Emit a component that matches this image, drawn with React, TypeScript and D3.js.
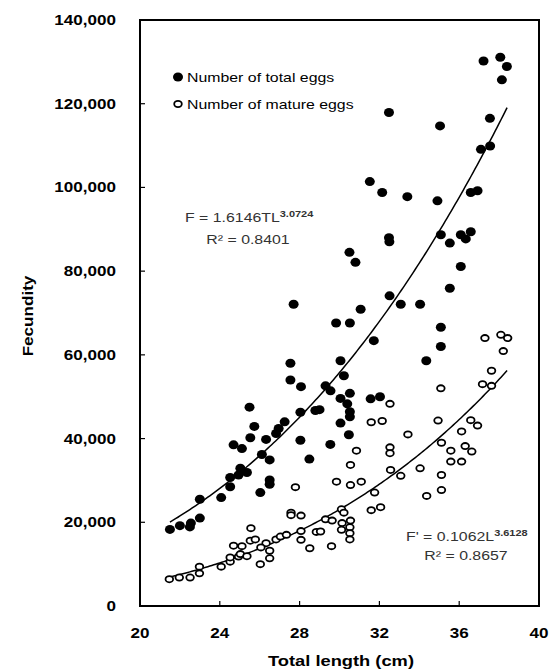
import React from "react";
import * as d3 from "d3";

// Total length (cm) and fecundity for each fish
const totalEggs: [number, number][] = [
  [21.5, 18300], [22.0, 19200], [22.5, 18900], [22.55, 19800], [23.0, 21000], [23.0, 25500],
  [24.07, 25900], [24.52, 28500], [24.52, 30700], [24.94, 31300], [25.03, 32900], [25.36, 31900],
  [24.69, 38500], [25.11, 37600], [25.49, 47500], [25.73, 42900], [25.53, 40200], [26.32, 39800],
  [26.82, 41200], [26.95, 42400], [27.25, 44000], [26.11, 36200], [26.5, 34900], [26.5, 30100],
  [26.5, 29100], [26.03, 27100], [28.04, 39600], [28.49, 35100], [27.7, 72100], [27.54, 58000],
  [27.54, 54000], [28.07, 52400], [28.04, 46300], [28.79, 46700], [29.0, 46900], [29.3, 52600],
  [29.55, 51400], [29.54, 38600], [29.83, 67600], [30.52, 67600], [30.05, 58600], [30.22, 55000],
  [30.52, 50800], [30.05, 49600], [30.39, 48300], [30.52, 46400], [30.52, 45200], [30.05, 43700],
  [30.47, 40900], [30.5, 84500], [30.8, 82100], [31.06, 70900], [31.72, 63400], [31.56, 49500],
  [32.03, 50000], [31.52, 101400], [32.14, 98800], [32.48, 117900], [32.48, 88000], [32.5, 87000],
  [32.51, 74100], [33.07, 72100], [33.4, 97800], [34.04, 72100], [34.35, 58600], [34.91, 96800],
  [35.04, 114700], [35.08, 88700], [35.53, 86700], [35.08, 66600], [35.08, 62000], [35.53, 75900],
  [36.08, 88700], [36.33, 87700], [36.58, 89400], [36.08, 81100], [36.58, 98800], [36.92, 99200],
  [37.09, 109100], [37.55, 109900], [37.54, 116500], [37.22, 130200], [38.06, 131100],
  [38.39, 128900], [38.14, 125700],
];

const matureEggs: [number, number][] = [
  [21.47, 6400], [21.97, 6800], [22.51, 6800], [22.98, 7800], [22.98, 9400], [24.07, 9400],
  [24.52, 10600], [24.52, 11600], [24.94, 11800], [25.03, 12400], [25.36, 11900], [24.69, 14400],
  [25.11, 14300], [25.56, 18600], [25.53, 15600], [25.78, 15900], [26.32, 15000], [26.06, 14000],
  [26.5, 13200], [26.5, 11400], [26.03, 10000], [26.82, 15900], [27.04, 16600], [27.34, 17000],
  [27.57, 22300], [27.57, 21700], [27.79, 28400], [28.07, 21600], [28.07, 17900], [28.07, 15800],
  [28.51, 13800], [28.84, 17700], [29.05, 17800], [29.3, 20700], [29.63, 20400], [29.6, 14300],
  [30.1, 23100], [30.22, 22300], [30.13, 19800], [30.55, 20400], [30.1, 18200], [30.52, 18800],
  [30.52, 17400], [30.52, 15900], [29.85, 29700], [30.55, 28900], [31.09, 29700], [30.55, 33700],
  [30.85, 37100], [31.59, 43900], [32.14, 44200], [32.53, 48300], [32.53, 37900], [32.53, 36500],
  [32.56, 32500], [33.07, 31100], [33.43, 41000], [34.04, 32900], [34.37, 26300], [34.94, 44300],
  [35.08, 52000], [35.11, 39000], [35.11, 31300], [35.11, 27700], [35.58, 37100], [35.58, 34500],
  [36.12, 34500], [36.12, 41700], [36.3, 38200], [36.63, 36900], [36.58, 44400], [36.92, 43100],
  [37.17, 53000], [37.62, 52600], [37.62, 56200], [38.21, 60900], [37.29, 64000], [38.09, 64800],
  [38.43, 64000], [31.59, 22900], [32.06, 23600], [31.76, 27100],
];

// Power-curve fits F = a * TL^b
const totalFit = { a: 1.6146, b: 3.0724, label: "F = 1.6146TL", exp: "3.0724", r2: "R² = 0.8401" };
const matureFit = { a: 0.1062, b: 3.6128, label: "F' = 0.1062L", exp: "3.6128", r2: "R² = 0.8657" };
const fitRange: [number, number] = [21.5, 38.4];

const xTicks = [20, 24, 28, 32, 36, 40];
const yTicks = [0, 20000, 40000, 60000, 80000, 100000, 120000, 140000];

const W = 551;
const H = 672;
const left = 140;
const right = 539;
const top = 20;
const bottom = 606;
const SX = 1.22; // horizontal stretch of lettering
const FONT = "Arial, 'Liberation Sans', Helvetica, sans-serif";

function SText(props: {
  x: number; y: number; size: number; anchor?: string; weight?: string | number;
  fill?: string; rotate?: number; children: React.ReactNode;
}) {
  const { x, y, size, anchor = "start", weight = "normal", fill = "#000", rotate = 0, children } = props;
  return (
    <text
      transform={`translate(${x},${y}) rotate(${rotate}) scale(${SX},1)`}
      fontSize={size}
      fontWeight={weight}
      textAnchor={anchor}
      fill={fill}
      fontFamily={FONT}
    >
      {children}
    </text>
  );
}

export default function App() {
  const x = d3.scaleLinear().domain([20, 40]).range([left, right]);
  const y = d3.scaleLinear().domain([0, 140000]).range([bottom, top]);

  const samples = d3.range(fitRange[0], fitRange[1] + 0.001, 0.1);
  const line = d3
    .line<number>()
    .x((d) => x(d))
    .curve(d3.curveLinear);
  const totalPath = line.y((d) => y(totalFit.a * Math.pow(d, totalFit.b)))(samples) || "";
  const maturePath = line.y((d) => y(matureFit.a * Math.pow(d, matureFit.b)))(samples) || "";

  const fmt = d3.format(",");

  return (
    <svg
      width={W}
      height={H}
      style={{ position: "absolute", left: 0, top: 0, background: "#fff" }}
    >
      <rect x={0} y={0} width={W} height={H} fill="#fff" />

      {/* plot frame */}
      <rect x={left} y={top} width={right - left} height={bottom - top} fill="none" stroke="#000" strokeWidth={2} />

      {/* y ticks */}
      {yTicks.map((t) => (
        <g key={`y${t}`}>
          <line x1={left} x2={left + 5} y1={y(t)} y2={y(t)} stroke="#000" strokeWidth={1.2} />
          <SText x={116} y={y(t) + 5} size={14} anchor="end" weight="bold">
            {fmt(t)}
          </SText>
        </g>
      ))}

      {/* x ticks */}
      {xTicks.map((t) => (
        <g key={`x${t}`}>
          <line x1={x(t)} x2={x(t)} y1={bottom} y2={bottom - 5} stroke="#000" strokeWidth={1.2} />
          <SText x={x(t)} y={638} size={14} anchor="middle" weight="bold">
            {t}
          </SText>
        </g>
      ))}

      {/* axis titles */}
      <SText x={341} y={666} size={15} anchor="middle" weight="bold">
        Total length (cm)
      </SText>
      <SText x={33} y={316} size={14} anchor="middle" weight="bold" rotate={-90}>
        Fecundity
      </SText>

      {/* fitted curves */}
      <path d={totalPath} fill="none" stroke="#000" strokeWidth={1.5} />
      <path d={maturePath} fill="none" stroke="#000" strokeWidth={1.5} />

      {/* data points */}
      {matureEggs.map(([l, f], i) => (
        <ellipse key={`m${i}`} cx={x(l)} cy={y(f)} rx={3.8} ry={3.1} fill="#fff" stroke="#000" strokeWidth={1.8} />
      ))}
      {totalEggs.map(([l, f], i) => (
        <ellipse key={`t${i}`} cx={x(l)} cy={y(f)} rx={5} ry={4.5} fill="#000" />
      ))}

      {/* legend */}
      <ellipse cx={178} cy={77} rx={5} ry={4.5} fill="#000" />
      <SText x={187} y={82} size={13}>Number of total eggs</SText>
      <ellipse cx={178} cy={104} rx={3.8} ry={3.1} fill="#fff" stroke="#000" strokeWidth={1.8} />
      <SText x={187} y={109} size={13}>Number of mature eggs</SText>

      {/* fit equations */}
      <SText x={185} y={222} size={13} fill="#333">
        {totalFit.label}
        <tspan dy={-5} fontSize={9} fontWeight="bold">{totalFit.exp}</tspan>
      </SText>
      <SText x={248} y={244} size={13} anchor="middle" fill="#333">
        {totalFit.r2}
      </SText>
      <SText x={406} y={541} size={13} fill="#333">
        {matureFit.label}
        <tspan dy={-5} fontSize={9} fontWeight="bold">{matureFit.exp}</tspan>
      </SText>
      <SText x={466} y={560} size={13} anchor="middle" fill="#333">
        {matureFit.r2}
      </SText>
    </svg>
  );
}
